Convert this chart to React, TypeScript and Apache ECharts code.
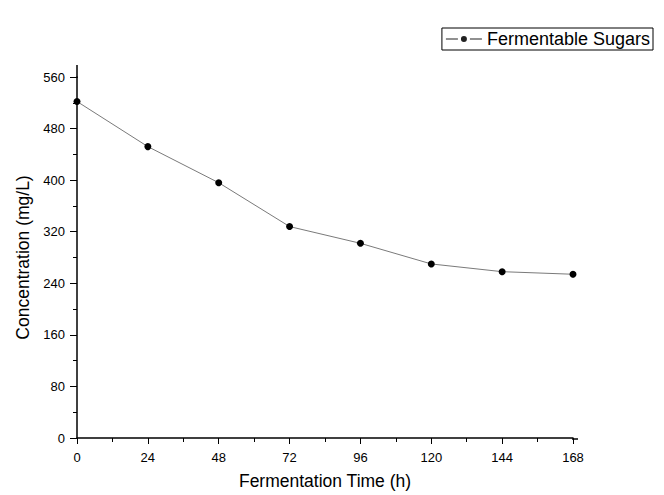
import React, { useEffect, useRef } from "react";
import * as echarts from "echarts";

const hours = [0, 24, 48, 72, 96, 120, 144, 168];
const sugars = [522, 452, 396, 328, 302, 270, 258, 254];
const seriesName = "Fermentable Sugars";
const xTitle = "Fermentation Time (h)";
const yTitle = "Concentration (mg/L)";

export default function App() {
  const ref = useRef<HTMLDivElement>(null);
  useEffect(() => {
    const chart = echarts.init(ref.current!, null, { renderer: "svg" });
    const font = "Liberation Sans, Arial, sans-serif";
    const legendIcon =
      "path://M0,2.5h12v1h-12z M24,2.5h12v1h-12z M15,3a3,3 0 1,0 6,0a3,3 0 1,0 -6,0z";
    chart.setOption({
      animation: false,
      backgroundColor: "#fff",
      textStyle: { fontFamily: font },
      grid: { left: 77, right: 91, top: 77, bottom: 56, containLabel: false },
      legend: {
        data: [{ name: seriesName, icon: legendIcon }],
        right: 11,
        top: 28,
        itemWidth: 36,
        itemHeight: 6,
        itemGap: 4,
        padding: [2, 3, 2, 4],
        borderColor: "#000",
        borderWidth: 1,
        borderRadius: 0,
        itemStyle: { color: "#222", borderWidth: 0 },
        lineStyle: { width: 0, opacity: 0 },
        textStyle: { fontSize: 18, color: "#000", fontFamily: font, padding: [0, 0, 0, 0] },
      },
      xAxis: {
        type: "value",
        min: 0,
        max: 168,
        interval: 24,
        name: xTitle,
        nameLocation: "middle",
        nameGap: 34,
        nameTextStyle: { fontSize: 17.5, color: "#000", fontFamily: font },
        axisLine: { lineStyle: { color: "#000", width: 1.5 } },
        axisTick: { inside: false, length: 6, lineStyle: { color: "#000" } },
        minorTick: { show: true, splitNumber: 2, length: 4, lineStyle: { color: "#000" } },
        axisLabel: { fontSize: 13, color: "#000", margin: 13, fontFamily: font },
        splitLine: { show: false },
      },
      yAxis: {
        type: "value",
        min: 0,
        max: 560,
        interval: 80,
        name: yTitle,
        nameLocation: "middle",
        nameGap: 43,
        nameTextStyle: { fontSize: 17.5, color: "#000", fontFamily: font },
        axisLine: { lineStyle: { color: "#000", width: 1.5 } },
        axisTick: { inside: false, length: 7, lineStyle: { color: "#000" } },
        minorTick: { show: true, splitNumber: 2, length: 4, lineStyle: { color: "#000" } },
        axisLabel: { fontSize: 13, color: "#000", margin: 12, fontFamily: font },
        splitLine: { show: false },
      },
      graphic: [
        { type: "line", shape: { x1: 77, y1: 65, x2: 77, y2: 78 }, style: { stroke: "#000", lineWidth: 1.5 } },
        { type: "line", shape: { x1: 572, y1: 439, x2: 578, y2: 439 }, style: { stroke: "#000", lineWidth: 1.5 } },
      ],
      series: [
        {
          name: seriesName,
          type: "line",
          data: hours.map((h, i) => [h, sugars[i]]),
          symbol: "circle",
          symbolSize: 7,
          itemStyle: { color: "#000" },
          lineStyle: { color: "#7a7a7a", width: 1 },
          clip: false,
        },
      ],
    });
    return () => chart.dispose();
  }, []);
  return <div ref={ref} style={{ width: 664, height: 495, position: "absolute", left: 0, top: 0 }} />;
}
